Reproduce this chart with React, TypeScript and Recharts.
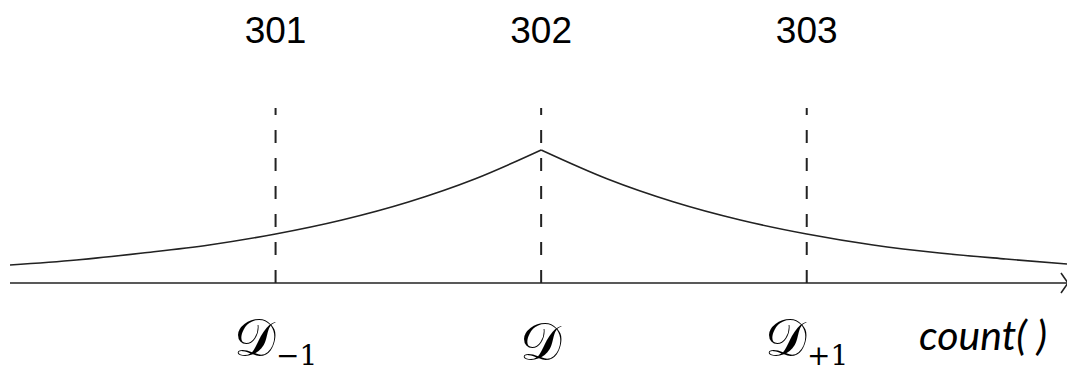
import React from "react";
import { LineChart, Line, XAxis, YAxis, ReferenceLine, ReferenceDot, Label } from "recharts";

// Curve heights (left half and right half of the peaked curve)
const leftX = [300, 300.25, 300.5, 300.75, 301, 301.25, 301.5, 301.75, 302];
const leftY = [18, 23, 30, 38, 49, 63, 81, 104, 133];
const rightX = [302, 302.25, 302.5, 302.75, 303, 303.25, 303.5, 303.75, 303.98];
const rightY = [133, 104, 81, 63, 49, 38, 30, 24, 19];

// Marker positions and labels
const markers = [301, 302, 303];
const topLabels = ["301", "302", "303"];
const bottomMain = ["𝒟", "𝒟", "𝒟"];
const bottomSub = ["−1", "", "+1"];
const axisTitle = "count( )";

const leftData = leftX.map((x, i) => ({ x, y: leftY[i] }));
const rightData = rightX.map((x, i) => ({ x, y: rightY[i] }));

const W = 1067;
const H = 372;

const makeBottomLabel = (i: number) => (props: any) => {
  const vb = props.viewBox || {};
  const cx = vb.x;
  const hasSub = !!bottomSub[i];
  const base = vb.y + vb.height + (hasSub ? 73 : 77);
  return (
    <text x={cx} y={base} textAnchor="middle" fill="#000" fontFamily="'DejaVu Serif', serif">
      <tspan fontSize={52}>{bottomMain[i]}</tspan>
      {hasSub ? (
        <tspan fontSize={28} dy={9}>{bottomSub[i]}</tspan>
      ) : null}
    </text>
  );
};

const arrowShape = (props: any) => {
  const { cx, cy } = props;
  return (
    <path
      d={`M ${cx - 6} ${cy - 10} L ${cx + 1} ${cy} L ${cx - 6} ${cy + 10}`}
      fill="none"
      stroke="#222"
      strokeWidth={1.6}
    />
  );
};

const axisTitleContent = (props: any) => {
  const vb = props.viewBox || {};
  return (
    <text
      x={vb.x + vb.width - 20}
      y={vb.y + 67}
      textAnchor="end"
      fontSize={41}
      fontStyle="italic"
      fontFamily="Lato, 'Open Sans', sans-serif"
      fill="#000"
    >
      {axisTitle}
    </text>
  );
};

export default function App() {
  return (
    <div style={{ position: "absolute", left: 0, top: 0, width: W, height: H, background: "#fff" }}>
      <LineChart width={W} height={H} margin={{ top: 108, right: 0, bottom: 0, left: 10 }}>
        <XAxis
          xAxisId="b"
          type="number"
          dataKey="x"
          domain={[300, 303.98]}
          allowDataOverflow
          ticks={[]}
          tick={false}
          tickLine={false}
          height={89}
          axisLine={{ stroke: "#222", strokeWidth: 1.6 }}
        >
          <Label content={axisTitleContent} />
        </XAxis>
        <YAxis type="number" domain={[0, 175]} hide width={0} />
        {markers.map((m, i) => (
          <ReferenceLine
            key={m}
            xAxisId="b"
            x={m}
            stroke="#222"
            strokeWidth={2}
            strokeDasharray="13 15"
          >
            <Label
              value={topLabels[i]}
              position="top"
              offset={65}
              fontSize={37}
              fill="#000"
              fontFamily="'Liberation Sans', Arial, sans-serif"
            />
            <Label content={makeBottomLabel(i)} />
          </ReferenceLine>
        ))}
        <Line
          xAxisId="b"
          data={leftData}
          dataKey="y"
          type="monotone"
          stroke="#222"
          strokeWidth={1.6}
          dot={false}
          activeDot={false}
          isAnimationActive={false}
        />
        <Line
          xAxisId="b"
          data={rightData}
          dataKey="y"
          type="monotone"
          stroke="#222"
          strokeWidth={1.6}
          dot={false}
          activeDot={false}
          isAnimationActive={false}
        />
        <ReferenceDot xAxisId="b" x={303.98} y={0} shape={arrowShape} ifOverflow="visible" />
      </LineChart>
    </div>
  );
}
